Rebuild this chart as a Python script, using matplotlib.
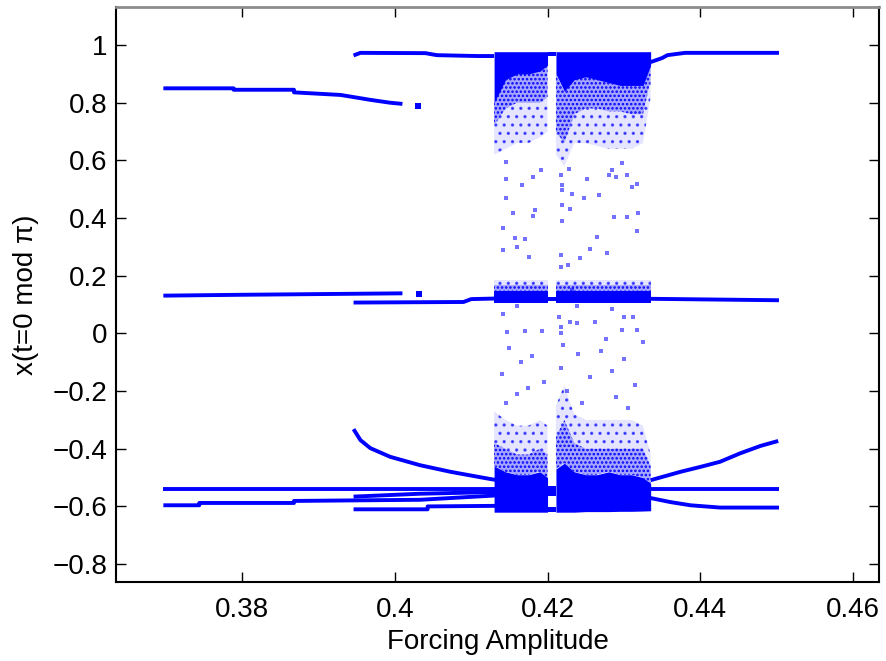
import matplotlib
matplotlib.use('Agg')
import numpy as np
import matplotlib.pyplot as plt

# periodic branches (forcing amplitude, x value)
upper_left_x = [0.3697, 0.3789, 0.3789, 0.3868, 0.3868, 0.3929, 0.3968, 0.3994, 0.4010]
upper_left_y = [0.850, 0.850, 0.845, 0.845, 0.836, 0.827, 0.810, 0.800, 0.796]

top_left_x = [0.3946, 0.3955, 0.4040, 0.4055, 0.4108, 0.4130]
top_left_y = [0.964, 0.973, 0.972, 0.965, 0.962, 0.962]
top_right_x = [0.4335, 0.4350, 0.4357, 0.4380, 0.4503]
top_right_y = [0.941, 0.955, 0.965, 0.973, 0.973]

mid_a_x = [0.3697, 0.3800, 0.4010]
mid_a_y = [0.131, 0.134, 0.139]
mid_b_x = [0.3946, 0.4090, 0.4100, 0.4132]
mid_b_y = [0.107, 0.109, 0.119, 0.121]
mid_right_x = [0.4335, 0.4503]
mid_right_y = [0.120, 0.115]

curve_left_x = [0.3946, 0.3955, 0.3968, 0.3994, 0.4033, 0.4073, 0.4125, 0.4132]
curve_left_y = [-0.332, -0.370, -0.398, -0.428, -0.457, -0.480, -0.505, -0.508]
curve_right_x = [0.4335, 0.4374, 0.4400, 0.4426, 0.4452, 0.4479, 0.4502]
curve_right_y = [-0.509, -0.480, -0.463, -0.445, -0.416, -0.390, -0.373]

low_a_x = [0.3697, 0.4132]
low_a_y = [-0.540, -0.540]
low_b_x = [0.3697, 0.3744, 0.3744, 0.3868, 0.3868, 0.4033, 0.4132]
low_b_y = [-0.596, -0.596, -0.588, -0.588, -0.581, -0.577, -0.562]
low_c_x = [0.3946, 0.4033, 0.4132]
low_c_y = [-0.566, -0.556, -0.550]
low_d_x = [0.3946, 0.4043, 0.4043, 0.4132]
low_d_y = [-0.610, -0.610, -0.600, -0.598]
low_right_a_x = [0.4335, 0.4503]
low_right_a_y = [-0.538, -0.538]
low_right_b_x = [0.4335, 0.4361, 0.4387, 0.4426, 0.4503]
low_right_b_y = [-0.571, -0.585, -0.596, -0.604, -0.604]

# little isolated pieces near 0.403
blob_x = [0.4031, 0.4032]
blob_y = [0.788, 0.137]

# chaotic window: column edges (split at the periodic window near 0.42)
cloud_x = [0.4130, 0.4145, 0.4160, 0.4175, 0.4190, 0.4200,
           0.4211, 0.4222, 0.4235, 0.4250, 0.4265, 0.4280, 0.4295, 0.4310, 0.4325, 0.4335]
gap_split = 6
top_solid = [0.80, 0.88, 0.90, 0.90, 0.91, 0.93, 0.90, 0.84, 0.88, 0.89, 0.88, 0.87, 0.86, 0.86, 0.86, 0.93]
top_mid = [0.72, 0.78, 0.80, 0.80, 0.80, 0.82, 0.70, 0.66, 0.76, 0.78, 0.78, 0.77, 0.77, 0.76, 0.76, 0.88]
top_faint = [0.62, 0.64, 0.66, 0.66, 0.68, 0.70, 0.62, 0.58, 0.66, 0.66, 0.65, 0.64, 0.64, 0.64, 0.66, 0.82]
bot_edge = [-0.620, -0.620, -0.620, -0.620, -0.620, -0.620, -0.620, -0.620, -0.620, -0.618, -0.618, -0.618, -0.617, -0.617, -0.616, -0.615]
bot_solid = [-0.46, -0.48, -0.49, -0.49, -0.48, -0.50, -0.47, -0.45, -0.48, -0.49, -0.49, -0.48, -0.49, -0.49, -0.50, -0.52]
bot_mid = [-0.38, -0.40, -0.42, -0.42, -0.40, -0.42, -0.36, -0.30, -0.38, -0.40, -0.40, -0.40, -0.40, -0.40, -0.40, -0.46]
bot_faint = [-0.27, -0.30, -0.32, -0.32, -0.30, -0.32, -0.25, -0.18, -0.28, -0.30, -0.30, -0.30, -0.30, -0.30, -0.32, -0.42]
top_edge = 0.977
mid_low, mid_solid, mid_mid, mid_faint = 0.105, 0.148, 0.168, 0.185

# periodic window inside the chaos
window_x = [0.4200, 0.4211]
window_bands = [(0.962, 0.977), (0.114, 0.126), (-0.565, -0.530), (-0.620, -0.603)]

# scattered chaotic points
sparse_x = [0.4146, 0.4145, 0.4191, 0.4181, 0.4167, 0.4145, 0.4155, 0.4184, 0.4181, 0.4142,
            0.4171, 0.4160, 0.4142, 0.4176, 0.4217, 0.4219, 0.4219, 0.4228, 0.4232, 0.4219,
            0.4230, 0.4219, 0.4248, 0.4252, 0.4265, 0.4256, 0.4217, 0.4243, 0.4217, 0.4227,
            0.4278, 0.4287, 0.4304, 0.4319, 0.4317, 0.4280, 0.4285, 0.4289, 0.4304, 0.4298,
            0.4311, 0.4317,
            0.4142, 0.4160, 0.4215, 0.4147, 0.4170, 0.4193, 0.4217, 0.4218, 0.4230, 0.4239,
            0.4239, 0.4262, 0.4285, 0.4300, 0.4312, 0.4298, 0.4317, 0.4277,
            0.4150, 0.4165, 0.4140, 0.4180, 0.4195, 0.4220, 0.4218, 0.4225, 0.4240, 0.4255,
            0.4270, 0.4285, 0.4300, 0.4315, 0.4325, 0.4160, 0.4245, 0.4290, 0.4145, 0.4305,
            0.4175, 0.4232, 0.4158, 0.4268]
sparse_y = [0.595, 0.535, 0.566, 0.542, 0.514, 0.469, 0.417, 0.428, 0.407, 0.365,
            0.327, 0.299, 0.289, 0.265, 0.549, 0.514, 0.497, 0.570, 0.483, 0.445,
            0.431, 0.390, 0.469, 0.535, 0.334, 0.292, 0.272, 0.261, 0.230, 0.237,
            0.279, 0.403, 0.403, 0.417, 0.355, 0.549, 0.566, 0.542, 0.549, 0.591,
            0.507, 0.518,
            0.069, 0.095, 0.058, 0.004, 0.009, 0.009, 0.022, 0.001, 0.040, 0.036,
            0.095, 0.039, 0.084, 0.057, 0.058, 0.011, 0.011, -0.020,
            -0.05, -0.10, -0.14, -0.08, -0.17, -0.04, -0.12, -0.20, -0.07, -0.15,
            -0.06, -0.13, -0.09, -0.18, -0.03, -0.21, -0.24, -0.22, -0.24, -0.26,
            -0.19, 0.15, 0.33, 0.48]

x_ticks = [0.38, 0.40, 0.42, 0.44, 0.46]
x_tick_labels = ['0.38', '0.4', '0.42', '0.44', '0.46']
y_ticks = [1.0, 0.8, 0.6, 0.4, 0.2, 0.0, -0.2, -0.4, -0.6, -0.8]
y_tick_labels = ['1', '0.8', '0.6', '0.4', '0.2', '0', '\u22120.2', '\u22120.4', '\u22120.6', '\u22120.8']

plt.rcParams['font.family'] = ['Liberation Sans', 'DejaVu Sans']
plt.rcParams['hatch.linewidth'] = 1.2
blue = '#0000ff'

fig = plt.figure(figsize=(8.87, 6.61), dpi=100)
ax = fig.add_axes([0.1308, 0.12, 0.8602, 0.8694])


def cloud_layer(xs, y1, y2, kind):
    # speckled look: a light tint plus a dotted hatch, or solid for the dense part
    if kind == 'solid':
        ax.fill_between(xs, y1, y2, color=blue, lw=0)
    elif kind == 'mid':
        ax.fill_between(xs, y1, y2, facecolor=(0, 0, 1, 0.35), edgecolor=blue,
                        hatch='....', lw=0)
    else:
        ax.fill_between(xs, y1, y2, facecolor=(0, 0, 1, 0.10), edgecolor=(0, 0, 1, 0.6),
                        hatch='..', lw=0)


# chaotic clouds, drawn on each side of the periodic window
cx = np.array(cloud_x)
for sl in (slice(0, gap_split), slice(gap_split, len(cloud_x))):
    xs = cx[sl]
    cloud_layer(xs, np.array(top_mid)[sl], np.array(top_faint)[sl], 'faint')
    cloud_layer(xs, np.array(top_solid)[sl], np.array(top_mid)[sl], 'mid')
    cloud_layer(xs, top_edge, np.array(top_solid)[sl], 'solid')
    cloud_layer(xs, mid_mid, mid_faint, 'faint')
    cloud_layer(xs, mid_solid, mid_mid, 'mid')
    cloud_layer(xs, mid_low, mid_solid, 'solid')
    cloud_layer(xs, np.array(bot_mid)[sl], np.array(bot_faint)[sl], 'faint')
    cloud_layer(xs, np.array(bot_solid)[sl], np.array(bot_mid)[sl], 'mid')
    cloud_layer(xs, np.array(bot_edge)[sl], np.array(bot_solid)[sl], 'solid')

for lo, hi in window_bands:
    ax.fill_between(window_x, lo, hi, color=blue, lw=0)

ax.scatter(sparse_x, sparse_y, s=5, marker='s', color=blue, alpha=0.55, linewidths=0)

# periodic branches
branches = [
    (upper_left_x, upper_left_y), (top_left_x, top_left_y), (top_right_x, top_right_y),
    (mid_a_x, mid_a_y), (mid_b_x, mid_b_y), (mid_right_x, mid_right_y),
    (curve_left_x, curve_left_y), (curve_right_x, curve_right_y),
    (low_a_x, low_a_y), (low_b_x, low_b_y), (low_c_x, low_c_y), (low_d_x, low_d_y),
    (low_right_a_x, low_right_a_y), (low_right_b_x, low_right_b_y),
]
for bx, by in branches:
    ax.plot(bx, by, color=blue, lw=2.8, solid_capstyle='butt')
ax.plot(blob_x, blob_y, 's', color=blue, ms=4, mew=0)

ax.set_xlim(0.3635, 0.4634)
ax.set_ylim(-0.861, 1.132)
ax.set_xticks(x_ticks)
ax.set_xticklabels(x_tick_labels)
ax.set_yticks(y_ticks)
ax.set_yticklabels(y_tick_labels)
ax.tick_params(direction='in', length=7, width=1, labelsize=20, top=True, right=True,
               colors='black')
ax.tick_params(axis='x', pad=11)
ax.tick_params(axis='y', pad=6)

for side in ['left', 'bottom', 'right']:
    ax.spines[side].set_linewidth(1.5)
    ax.spines[side].set_color('black')
ax.spines['top'].set_linewidth(2)
ax.spines['top'].set_color('#8c8c8c')

ax.set_xlabel('Forcing Amplitude', fontsize=20, labelpad=4)
ax.set_ylabel('x(t=0 mod \u03c0)', fontsize=20, labelpad=10)

fig.savefig('out.png', dpi=100)
plt.close(fig)
